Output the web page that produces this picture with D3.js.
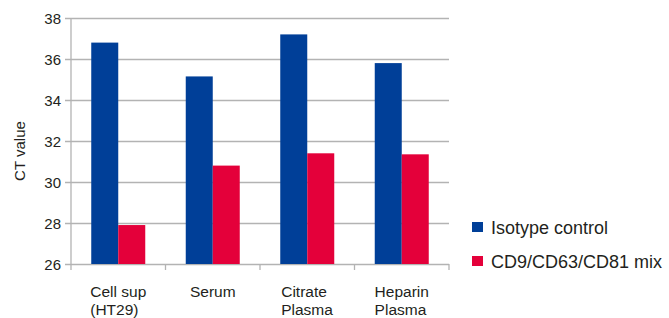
<!DOCTYPE html>
<html>
<head>
<meta charset="utf-8">
<script src="https://cdn.jsdelivr.net/npm/d3@7"></script>
<style>
  body { margin: 0; background: #fff; }
  svg { display: block; font-family: "Liberation Sans", Arial, sans-serif; }
</style>
</head>
<body>
<div id="chart"></div>
<script>
  'use strict';

  // Data.
  var categories = [['Cell sup', '(HT29)'], ['Serum'], ['Citrate', 'Plasma'], ['Heparin', 'Plasma']];
  var seriesNames = ['Isotype control', 'CD9/CD63/CD81 mix'];
  var isotypeValues = [36.8, 35.15, 37.2, 35.8];
  var mixValues = [27.9, 30.8, 31.4, 31.35];
  var yTicks = [26, 28, 30, 32, 34, 36, 38];
  var colors = ['#003f98', '#e4003a'];

  var width = 669, height = 318;
  var plot = {left: 71, right: 449, top: 18, bottom: 264};
  var textColor = '#231f20', gridColor = '#b3b3b3';

  var svg = d3.select('#chart').append('svg')
      .attr('width', width)
      .attr('height', height);

  var keys = categories.map(function(d, i) { return 'c' + i; });

  var xScale = d3.scaleBand()
      .domain(keys)
      .range([plot.left, plot.right])
      .paddingInner(0)
      .paddingOuter(0);

  var xInner = d3.scaleBand()
      .domain(seriesNames)
      .range([0, xScale.bandwidth()])
      .paddingInner(0)
      .paddingOuter(0.75);

  var yScale = d3.scaleLinear()
      .domain([26, 38])
      .range([plot.bottom, plot.top]);

  // Gridlines and y axis.
  var yAxis = d3.axisLeft(yScale)
      .tickValues(yTicks)
      .tickSize(-(plot.right - plot.left))
      .tickPadding(10)
      .tickFormat(d3.format('d'));

  var gy = svg.append('g')
      .attr('transform', 'translate(' + plot.left + ',0)')
      .call(yAxis);
  gy.select('.domain').remove();
  gy.selectAll('.tick line')
      .attr('x1', -6)
      .attr('stroke', gridColor)
      .attr('stroke-width', 1.3);
  gy.selectAll('.tick text')
      .attr('fill', textColor)
      .attr('font-size', 15)
      .attr('dy', '0.36em');

  // Vertical axis line.
  svg.append('line')
      .attr('x1', plot.left).attr('x2', plot.left)
      .attr('y1', plot.top).attr('y2', plot.bottom + 6)
      .attr('stroke', gridColor)
      .attr('stroke-width', 1.3);

  // Category boundary ticks on the x axis.
  var bounds = keys.map(function(k) { return xScale(k); }).concat([plot.right]);
  svg.append('g').selectAll('line')
      .data(bounds.slice(1))
      .enter().append('line')
      .attr('x1', function(d) { return d; })
      .attr('x2', function(d) { return d; })
      .attr('y1', plot.bottom)
      .attr('y2', plot.bottom + 6)
      .attr('stroke', gridColor)
      .attr('stroke-width', 1.3);

  // Bars.
  var seriesValues = [isotypeValues, mixValues];
  seriesNames.forEach(function(name, si) {
    svg.append('g').selectAll('rect')
        .data(seriesValues[si])
        .enter().append('rect')
        .attr('x', function(d, i) { return xScale(keys[i]) + xInner(name); })
        .attr('y', function(d) { return yScale(d); })
        .attr('width', xInner.bandwidth())
        .attr('height', function(d) { return yScale(26) - yScale(d); })
        .attr('fill', colors[si]);
  });

  // Category labels: a left-aligned block, centred under its band.
  var labelG = svg.append('g')
      .attr('fill', textColor)
      .attr('font-size', 15.5);
  categories.forEach(function(lines, i) {
    var t = labelG.append('text')
        .attr('y', 297);
    lines.forEach(function(line, li) {
      t.append('tspan')
          .attr('x', 0)
          .attr('dy', li === 0 ? 0 : 18)
          .text(line);
    });
    var w = t.node().getBBox().width;
    var cx = xScale(keys[i]) + xScale.bandwidth() / 2;
    t.selectAll('tspan').attr('x', cx - w / 2);
  });

  // Y axis title.
  svg.append('text')
      .attr('transform', 'translate(25,' + ((plot.top + plot.bottom) / 2 + 10) + ') rotate(-90)')
      .attr('text-anchor', 'middle')
      .attr('fill', textColor)
      .attr('font-size', 15)
      .text('CT value');

  // Legend.
  var legend = svg.append('g')
      .attr('transform', 'translate(472,222)');
  var items = legend.selectAll('g')
      .data(seriesNames)
      .enter().append('g')
      .attr('transform', function(d, i) { return 'translate(0,' + (i * 34) + ')'; });
  items.append('rect')
      .attr('width', 11)
      .attr('height', 10)
      .attr('fill', function(d, i) { return colors[i]; });
  items.append('text')
      .attr('x', 19)
      .attr('y', 12)
      .attr('fill', textColor)
      .attr('font-size', 18)
      .text(function(d) { return d; });
</script>
</body>
</html>
